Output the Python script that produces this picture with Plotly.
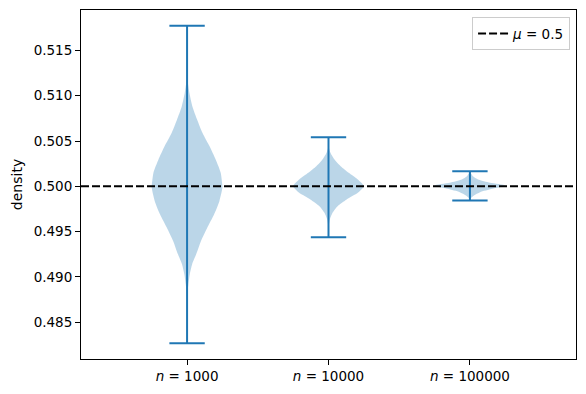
import plotly.graph_objects as go

# ---- data ----
positions = [1, 2, 3]
tick_labels = ["<i>n</i> = 1000", "<i>n</i> = 10000", "<i>n</i> = 100000"]
mu = 0.5

# sample minimum / maximum per group
mins = [0.48269, 0.49439, 0.49844]
maxs = [0.51771, 0.50541, 0.50166]

# kernel-density profiles (y values and relative density, 1 = widest)
kde_y_1000 = [0.51771, 0.51253, 0.51176, 0.51030, 0.50882, 0.50736, 0.50589, 0.50442,
              0.50295, 0.50149, 0.50001, 0.49983, 0.49836, 0.49689, 0.49543, 0.49395,
              0.49249, 0.49139, 0.49029, 0.48919, 0.48808, 0.48269]
kde_d_1000 = [0.0, 0.01, 0.014, 0.066, 0.151, 0.286, 0.437, 0.637,
              0.809, 0.951, 1.0, 1.0, 0.914, 0.763, 0.571, 0.391,
              0.257, 0.143, 0.077, 0.037, 0.009, 0.0]

kde_y_10000 = [0.50541, 0.50427, 0.50369, 0.50295, 0.50221, 0.50149, 0.50075, 0.50001,
               0.49928, 0.49855, 0.49781, 0.49708, 0.49634, 0.49568, 0.49439]
kde_d_10000 = [0.0, 0.01, 0.057, 0.171, 0.343, 0.571, 0.829, 1.0,
               0.829, 0.514, 0.257, 0.114, 0.037, 0.009, 0.0]

kde_y_100000 = [0.50166, 0.50141, 0.50111, 0.50075, 0.50039, 0.50009, 0.49972,
                0.49935, 0.49899, 0.49871, 0.49844]
kde_d_100000 = [0.0, 0.03, 0.086, 0.229, 0.571, 1.0, 0.629,
                0.286, 0.114, 0.03, 0.0]

kde_ys = [kde_y_1000, kde_y_10000, kde_y_100000]
kde_ds = [kde_d_1000, kde_d_10000, kde_d_100000]

# ---- styling ----
BLUE = "#1f77b4"
FILL = "rgba(31,119,180,0.3)"
HALF_WIDTH = 0.25
CAP_HALF = 0.125
FONT = "DejaVu Sans"

fig = go.Figure()

for pos, ys, ds in zip(positions, kde_ys, kde_ds):
    right_x = [pos + HALF_WIDTH * d for d in ds]
    left_x = [pos - HALF_WIDTH * d for d in reversed(ds)]
    fig.add_trace(go.Scatter(
        x=right_x + left_x,
        y=list(ys) + list(reversed(ys)),
        mode="lines", fill="toself", fillcolor=FILL,
        line=dict(width=0, shape="spline", smoothing=0.6),
        showlegend=False, hoverinfo="skip"))

for pos, lo, hi in zip(positions, mins, maxs):
    fig.add_trace(go.Scatter(x=[pos, pos], y=[lo, hi], mode="lines",
                             line=dict(color=BLUE, width=2),
                             showlegend=False, hoverinfo="skip"))
    for yv in (lo, hi):
        fig.add_trace(go.Scatter(x=[pos - CAP_HALF, pos + CAP_HALF], y=[yv, yv],
                                 mode="lines", line=dict(color=BLUE, width=2),
                                 showlegend=False, hoverinfo="skip"))

xr = [0.25, 3.75]
fig.add_trace(go.Scatter(x=xr, y=[mu, mu], mode="lines",
                         line=dict(color="black", width=2, dash="8px,3px"),
                         name="<i>μ</i> = 0.5"))

fig.update_layout(
    width=570, height=378,
    margin=dict(l=72.5, r=1.5, t=2, b=27),
    paper_bgcolor="white", plot_bgcolor="white",
    font=dict(family=FONT, size=13.5, color="black"),
    legend=dict(x=0.988, y=0.979, xanchor="right", yanchor="top",
                bgcolor="rgba(255,255,255,0.8)", bordercolor="#cccccc",
                borderwidth=1, font=dict(size=13.5)),
    showlegend=True,
)
fig.update_xaxes(range=xr, tickvals=positions, ticktext=tick_labels,
                 showgrid=False, zeroline=False, showline=True, mirror=True,
                 linecolor="black", linewidth=1, ticks="outside", ticklen=5,
                 tickcolor="black")
fig.update_yaxes(range=[0.48094, 0.51946],
                 tickvals=[0.485, 0.490, 0.495, 0.500, 0.505, 0.510, 0.515],
                 tickformat=".3f",
                 title=dict(text="density", standoff=7, font=dict(size=14)),
                 showgrid=False, zeroline=False, showline=True, mirror=True,
                 linecolor="black", linewidth=1, ticks="outside", ticklen=5,
                 tickcolor="black")

fig.write_html("out.html")
